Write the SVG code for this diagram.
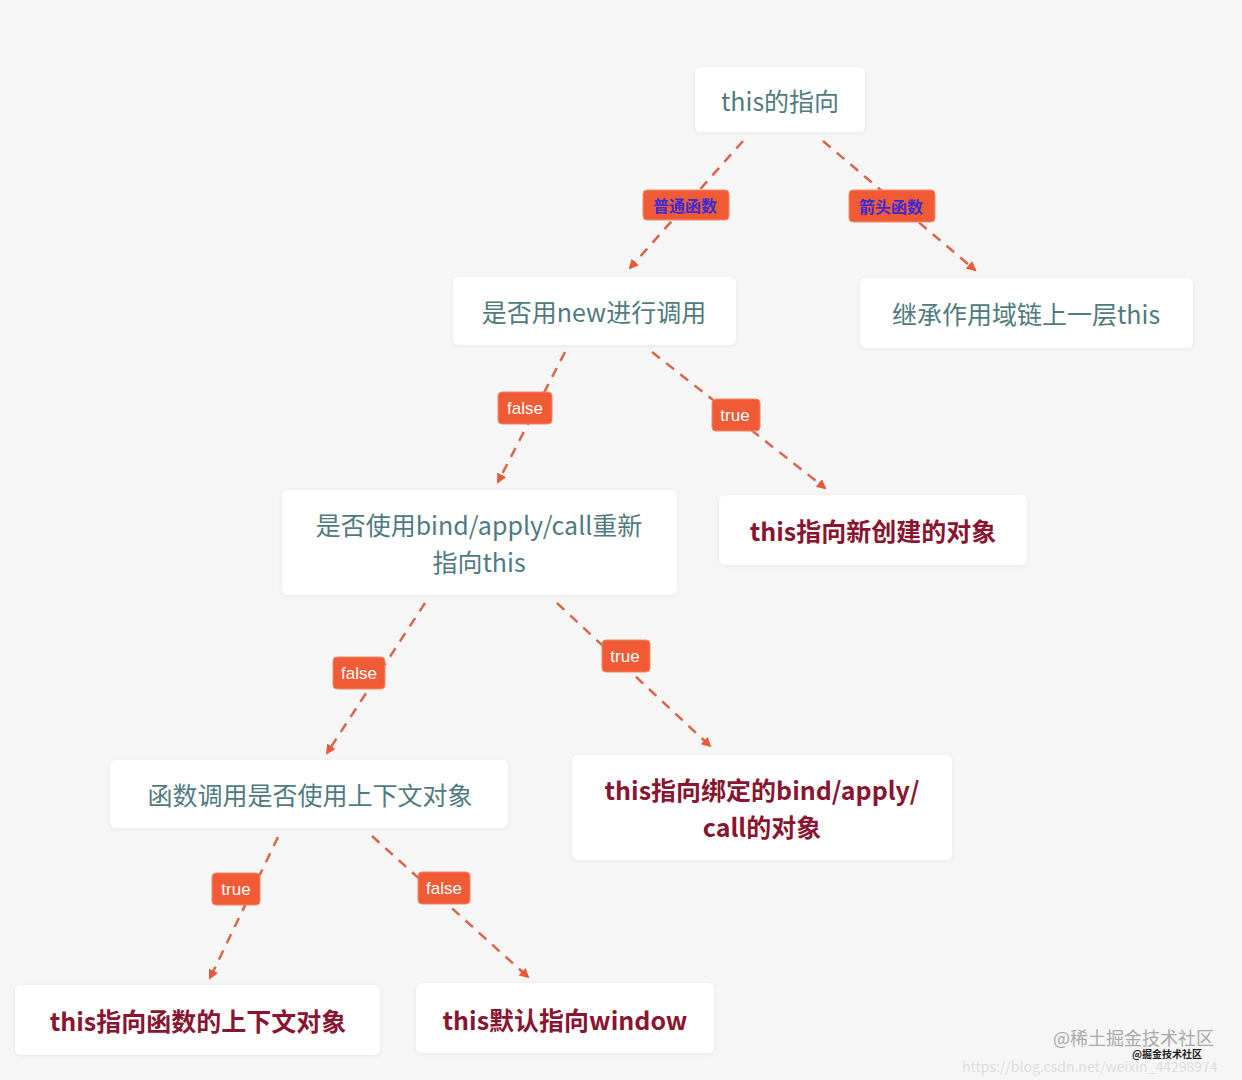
<svg xmlns="http://www.w3.org/2000/svg" width="1242" height="1080" viewBox="0 0 1242 1080">
<defs>
<marker id="ah" markerWidth="10" markerHeight="10" refX="8" refY="5" orient="auto" markerUnits="userSpaceOnUse" viewBox="0 0 10 10"><path d="M0,0 L10,5 L0,10 z" fill="#e85a3a"/></marker>
<filter id="sh" x="-10%" y="-20%" width="120%" height="140%"><feDropShadow dx="0" dy="1" stdDeviation="2" flood-color="#000" flood-opacity="0.06"/></filter>
</defs>
<style>
.n{fill:#fff;filter:url(#sh)}
.q{font-family:"Noto Sans CJK SC",sans-serif;font-size:25px;fill:#4f7b80;text-anchor:middle;dominant-baseline:central}
.a{font-family:"Noto Sans CJK SC",sans-serif;font-size:25px;font-weight:bold;fill:#8a1530;text-anchor:middle;dominant-baseline:central}
.c line{stroke:#d9654a;stroke-width:2.5;stroke-dasharray:10,8;marker-end:url(#ah)}
.l{fill:#f05a35;stroke:#f58a6a;stroke-width:1}
.lt{font-family:"Liberation Sans",sans-serif;font-size:17px;fill:#fff;text-anchor:middle;dominant-baseline:central}
.lb{font-family:"Noto Sans CJK SC",sans-serif;font-size:16px;font-weight:bold;fill:#3a2bd6;text-anchor:middle;dominant-baseline:central}
</style>
<rect width="1242" height="1080" fill="#f6f6f6"/>
<g id="connectors" class="c">
<line x1="743" y1="141" x2="630" y2="268"/>
<line x1="823" y1="141" x2="975" y2="270"/>
<line x1="565" y1="352" x2="498" y2="482"/>
<line x1="652" y1="352" x2="825" y2="488"/>
<line x1="425" y1="603" x2="327" y2="753"/>
<line x1="557" y1="603" x2="710" y2="746"/>
<line x1="278" y1="837" x2="210" y2="978"/>
<line x1="372" y1="836" x2="528" y2="977"/>
</g>
<g id="labels">
<rect class="l" x="643" y="190" width="86" height="30" rx="4"/><text class="lb" x="685" y="205">普通函数</text>
<rect class="l" x="849" y="190" width="86" height="32" rx="4"/><text class="lb" x="891" y="206">箭头函数</text>
<rect class="l" x="498" y="392" width="54" height="32" rx="4"/><text class="lt" x="525" y="408">false</text>
<rect class="l" x="712" y="399" width="48" height="32" rx="4"/><text class="lt" x="735" y="415">true</text>
<rect class="l" x="333" y="657" width="52" height="32" rx="4"/><text class="lt" x="359" y="673">false</text>
<rect class="l" x="602" y="640" width="48" height="32" rx="4"/><text class="lt" x="625" y="656">true</text>
<rect class="l" x="212" y="873" width="48" height="32" rx="4"/><text class="lt" x="236" y="889">true</text>
<rect class="l" x="418" y="872" width="52" height="32" rx="4"/><text class="lt" x="444" y="888">false</text>
</g>
<g id="n1"><rect class="n" x="695" y="67" width="170" height="65" rx="6"/><text class="q" x="780" y="100">this的指向</text></g>
<g id="n2"><rect class="n" x="453" y="277" width="283" height="68" rx="6"/><text class="q" x="594" y="311">是否用new进行调用</text></g>
<g id="n3"><rect class="n" x="860" y="278" width="333" height="70" rx="6"/><text class="q" x="1026" y="313">继承作用域链上一层this</text></g>
<g id="n4"><rect class="n" x="282" y="490" width="395" height="105" rx="6"/><text class="q" x="479" y="524">是否使用bind/apply/call重新</text><text class="q" x="479" y="561">指向this</text></g>
<g id="n5"><rect class="n" x="719" y="495" width="308" height="70" rx="6"/><text class="a" x="873" y="530">this指向新创建的对象</text></g>
<g id="n6"><rect class="n" x="110" y="760" width="398" height="68" rx="6"/><text class="q" x="310" y="794">函数调用是否使用上下文对象</text></g>
<g id="n7"><rect class="n" x="572" y="755" width="380" height="105" rx="6"/><text class="a" x="762" y="789">this指向绑定的bind/apply/</text><text class="a" x="762" y="826">call的对象</text></g>
<g id="n8"><rect class="n" x="15" y="985" width="365" height="70" rx="6"/><text class="a" x="198" y="1020">this指向函数的上下文对象</text></g>
<g id="n9"><rect class="n" x="416" y="983" width="298" height="70" rx="6"/><text class="a" x="565" y="1019">this默认指向window</text></g>
<g id="watermark" font-family="Noto Sans CJK SC,sans-serif">
<text x="1053" y="1045" font-size="18" fill="#aaa">@稀土掘金技术社区</text>
<text x="1132" y="1058" font-size="10" fill="#222" font-weight="bold">@掘金技术社区</text>
<text x="962" y="1072" font-size="14" fill="#ddd">https://blog.csdn.net/weixin_44298974</text>
</g>
</svg>
